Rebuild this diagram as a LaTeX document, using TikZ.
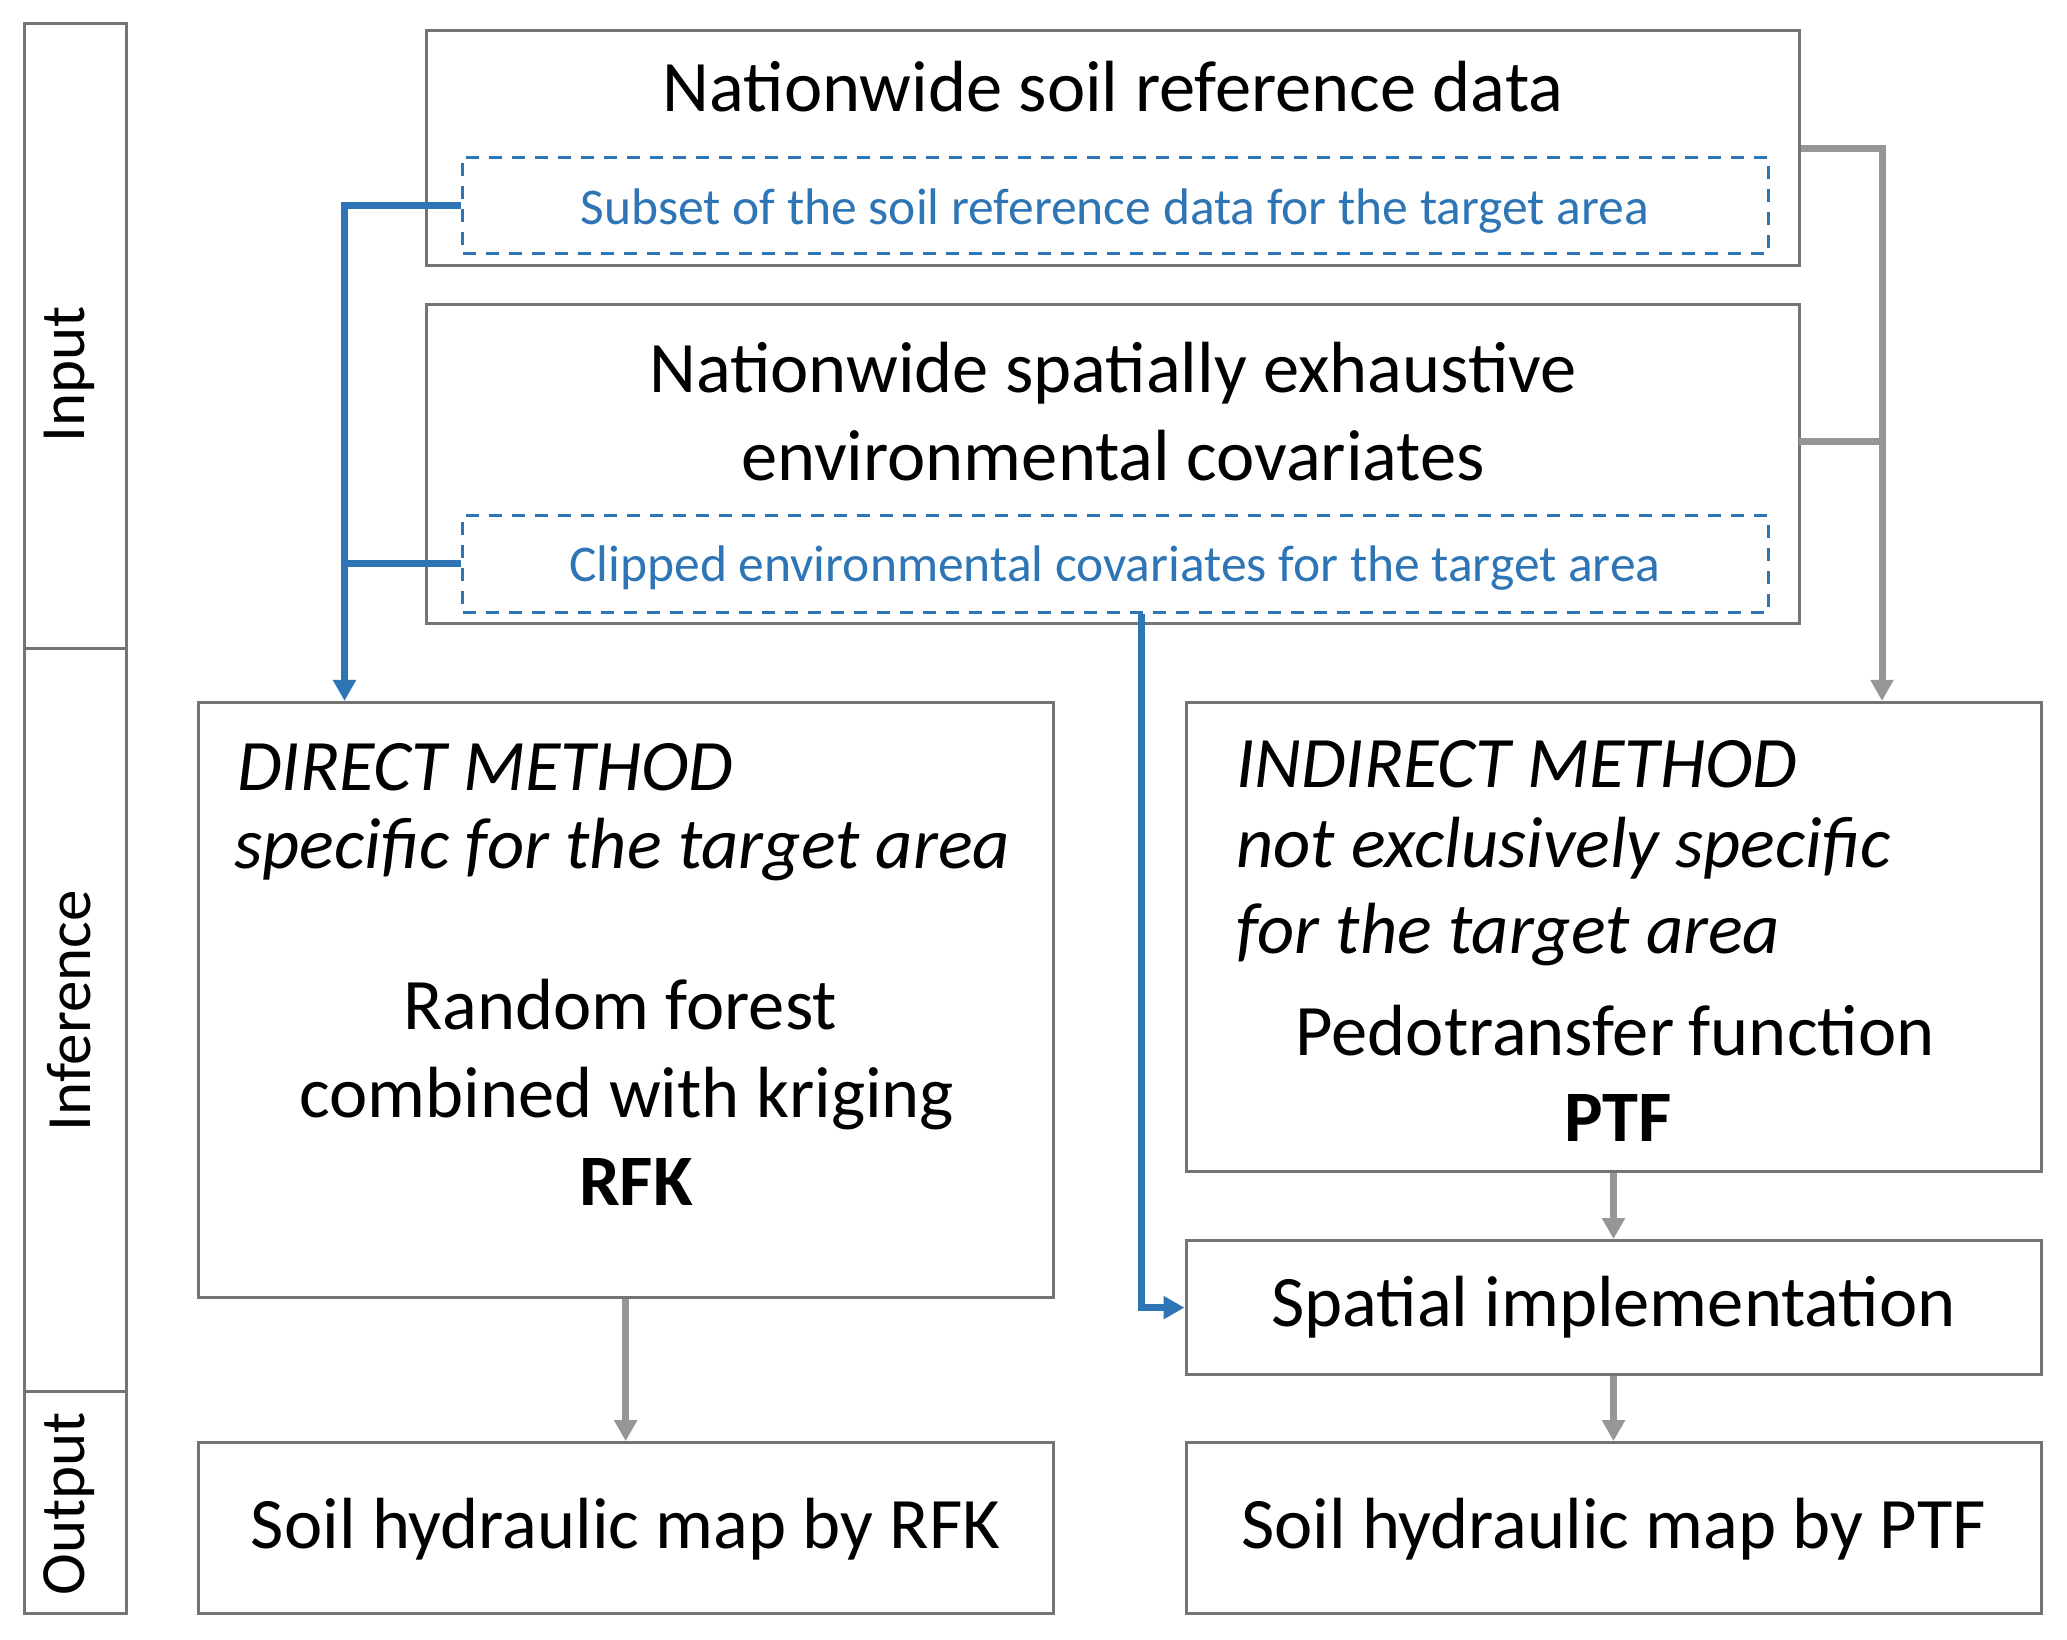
\documentclass[tikz,border=0pt]{standalone}
\usepackage{fontspec}
\setmainfont{Carlito}
\usetikzlibrary{arrows.meta}
\definecolor{boxgray}{HTML}{747474}
\definecolor{arrgray}{HTML}{969696}
\definecolor{myblue}{HTML}{2E75B6}
\begin{document}
\begin{tikzpicture}[x=1pt,y=-1pt,
  box/.style={draw=boxgray,line width=3pt,inner sep=0pt,fill=none},
  dbox/.style={draw=myblue,line width=3pt,dash pattern=on 13pt off 10pt,inner sep=0pt},
  maintxt/.style={font=\fontsize{72.5}{88}\selectfont,inner sep=0pt,anchor=base},
  bluetxt/.style={font=\fontsize{51.5}{62}\selectfont,text=myblue,inner sep=0pt,anchor=base},
  labtxt/.style={font=\fontsize{63}{76}\selectfont,inner sep=0pt,rotate=90},
  garrow/.style={draw=arrgray,line width=7pt,-{Triangle[length=21pt,width=22pt]}},
  gline/.style={draw=arrgray,line width=7pt},
  barrow/.style={draw=myblue,line width=7pt,line join=miter,-{Triangle[length=21pt,width=22pt]}},
  bline/.style={draw=myblue,line width=7pt}
]
\useasboundingbox (0,0) rectangle (2067,1639);
\fill[white] (0,0) rectangle (2067,1639);

% stage column
\node[box,minimum width=102.1pt,minimum height=625pt] (colin) at (75.45,336) {};
\node[box,minimum width=102.1pt,minimum height=742.5pt] (colinf) at (75.45,1019.75) {};
\node[box,minimum width=102.1pt,minimum height=222pt] (colout) at (75.45,1502) {};
\node[labtxt] (lin) at (69,374) {Input};
\node[labtxt] (linf) at (69,1011) {Inference};
\node[labtxt] (lout) at (69,1504) {Output};

% input boxes
\node[box,minimum width=1373pt,minimum height=235.4pt] (b1) at (1112.5,148) {};
\node[dbox,minimum width=1305.5pt,minimum height=96.7pt] (d1) at (1115.25,205.35) {};
\node[box,minimum width=1373pt,minimum height=319pt] (b2) at (1112.5,463.9) {};
\node[dbox,minimum width=1305.5pt,minimum height=96.3pt] (d2) at (1115.25,563.85) {};

\node[maintxt] (t1) at (1113,111) {Nationwide soil reference data};
\node[bluetxt] (ts) at (1115,224) {Subset of the soil reference data for the target area};
\node[maintxt] (t2a) at (1113,392) {Nationwide spatially exhaustive};
\node[maintxt] (t2b) at (1113,480) {environmental covariates};
\node[bluetxt] (tc) at (1115,581.6) {Clipped environmental covariates for the target area};

% inference boxes
\node[box,minimum width=854.7pt,minimum height=594.6pt] (dir) at (625.65,999.7) {};
\node[box,minimum width=855pt,minimum height=468.6pt] (ind) at (1613.5,936.7) {};
\node[box,minimum width=855pt,minimum height=134.2pt,text height=52pt,text depth=14pt,font=\fontsize{72.5}{88}\selectfont] (sp) at (1613.5,1307.6) {Spatial implementation};

\node[maintxt,anchor=base west,font=\fontsize{72.5}{88}\selectfont\itshape] (dm1) at (237,790) {DIRECT METHOD};
\node[maintxt,anchor=base west,font=\fontsize{72.5}{88}\selectfont\itshape] (dm2) at (234,868) {specific for the target area};
\node[maintxt] (rf1) at (620,1029) {Random forest};
\node[maintxt] (rf2) at (627,1117) {combined with kriging};
\node[maintxt,font=\fontsize{72.5}{88}\selectfont\bfseries] (rf3) at (636,1205) {RFK};

\node[maintxt,anchor=base west,font=\fontsize{72.5}{88}\selectfont\itshape] (im1) at (1236,787) {INDIRECT METHOD};
\node[maintxt,anchor=base west,font=\fontsize{72.5}{88}\selectfont\itshape] (im2) at (1236,867) {not exclusively specific};
\node[maintxt,anchor=base west,font=\fontsize{72.5}{88}\selectfont\itshape] (im3) at (1236,953) {for the target area};
\node[maintxt] (pt1) at (1615,1055) {Pedotransfer\hspace{0.2em}function};
\node[maintxt,font=\fontsize{72.5}{88}\selectfont\bfseries] (pt2) at (1618,1141) {PTF};

% output boxes
\node[box,minimum width=854.7pt,minimum height=170.4pt,text height=56pt,text depth=14pt,font=\fontsize{72.5}{88}\selectfont] (orfk) at (625.65,1527.8) {Soil hydraulic map by RFK};
\node[box,minimum width=855pt,minimum height=170.4pt,text height=56pt,text depth=14pt,font=\fontsize{72.5}{88}\selectfont] (optf) at (1613.5,1527.8) {Soil hydraulic map by PTF};

% connectors
\coordinate (jb) at (344.5,0);
\coordinate (jc) at (1141.7,0);
\coordinate (jg) at (1882,0);
\coordinate (g2) at (1799,441);

\draw[barrow] (d1.west) -- (d1.west -| jb) -- (jb |- dir.north);
\draw[bline] (d2.west) -- (d2.west -| jb);
\draw[barrow] (d2.south -| jc) |- (sp.west);

\draw[garrow] (b1.east) -- (b1.east -| jg) -- (jg |- ind.north);
\draw[gline] (g2) -- (g2 -| jg);
\draw[garrow] (dir.south) -- (orfk.north);
\draw[garrow] (ind.south) -- (sp.north);
\draw[garrow] (sp.south) -- (optf.north);
\end{tikzpicture}
\end{document}
